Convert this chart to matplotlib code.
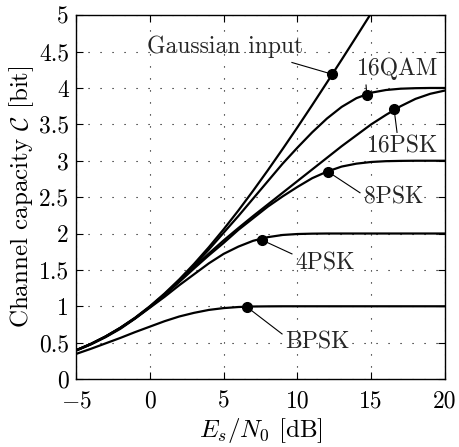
import numpy as np
import matplotlib
matplotlib.use('Agg')
import matplotlib.pyplot as plt

# Es/N0 grid [dB]
snr_db = [-5, -4, -3, -2, -1, 0, 1, 2, 3, 4, 5, 6, 7, 8, 9, 10,
          11, 12, 13, 14, 15, 16, 17, 18, 19, 20]

# capacities [bit]
c_gauss = [0.397, 0.483, 0.586, 0.706, 0.843, 1.0, 1.176, 1.370, 1.583, 1.812,
           2.057, 2.316, 2.588, 2.870, 3.161, 3.459, 3.764, 4.075, 4.389, 4.707,
           5.028]
c_16qam = [0.395, 0.482, 0.584, 0.702, 0.838, 0.993, 1.165, 1.355, 1.56, 1.78,
           2.01, 2.24, 2.48, 2.72, 2.96, 3.18, 3.39, 3.58, 3.74, 3.86,
           3.935, 3.972, 3.99, 3.997, 4.0, 4.0]
c_16psk = [0.394, 0.480, 0.582, 0.700, 0.835, 0.990, 1.16, 1.345, 1.54, 1.725,
           1.905, 2.075, 2.24, 2.40, 2.56, 2.72, 2.88, 3.04, 3.20, 3.35,
           3.50, 3.63, 3.75, 3.85, 3.92, 3.965]
c_8psk = [0.394, 0.480, 0.582, 0.700, 0.835, 0.988, 1.155, 1.335, 1.52, 1.70,
          1.87, 2.05, 2.21, 2.37, 2.51, 2.64, 2.76, 2.85, 2.92, 2.96,
          2.983, 2.994, 2.998, 3.0, 3.0, 3.0]
c_4psk = [0.390, 0.475, 0.575, 0.690, 0.830, 0.980, 1.13, 1.29, 1.44, 1.59,
          1.72, 1.82, 1.90, 1.95, 1.98, 1.993, 1.998, 2.0, 2.0, 2.0,
          2.0, 2.0, 2.0, 2.0, 2.0, 2.0]
c_bpsk = [0.345, 0.415, 0.49, 0.565, 0.645, 0.72, 0.795, 0.86, 0.91, 0.95,
          0.975, 0.99, 0.997, 0.999, 1.0, 1.0, 1.0, 1.0, 1.0, 1.0,
          1.0, 1.0, 1.0, 1.0, 1.0, 1.0]

# labels with marker point on the curve and text anchor
labels = ['Gaussian input', '16QAM', '16PSK', '8PSK', '4PSK', 'BPSK']
mark_x = [12.34, 14.7, 16.55, 12.07, 7.6, 6.58]
mark_y = [4.19, 3.91, 3.71, 2.85, 1.91, 0.99]
text_x = [5.1, 16.8, 17.15, 16.5, 11.85, 11.35]
text_y = [4.56, 4.26, 3.2, 2.49, 1.59, 0.51]
line_x = [9.63, 14.65, 16.75, 14.24, 9.63, 8.96]
line_y = [4.35, 4.04, 3.39, 2.56, 1.72, 0.62]

plt.rcParams['font.family'] = 'cmr10'
plt.rcParams['mathtext.fontset'] = 'cm'
plt.rcParams['axes.formatter.use_mathtext'] = True

fig = plt.figure(figsize=(4.59, 4.47), dpi=100)
ax = fig.add_axes([0.1656, 0.152, 0.8039, 0.814])

x = np.array(snr_db)
ax.plot(x[:len(c_gauss)], c_gauss, color='k', lw=1.6)
for c in [c_16qam, c_16psk, c_8psk, c_4psk, c_bpsk]:
    ax.plot(x, c, color='k', lw=1.6)

for i in range(len(labels)):
    ax.plot([mark_x[i], line_x[i]], [mark_y[i], line_y[i]], color='k', lw=0.8)
    ax.plot(mark_x[i], mark_y[i], 'o', color='k', ms=7)
    ax.text(text_x[i], text_y[i], labels[i], fontsize=17, color='0.15',
            ha='center', va='center')

ax.set_xlim(-5, 20)
ax.set_ylim(0, 5)
ax.set_xticks([-5, 0, 5, 10, 15, 20])
ax.set_yticks(np.arange(0, 5.01, 0.5))
ax.set_yticklabels(['0', '0.5', '1', '1.5', '2', '2.5', '3', '3.5', '4', '4.5', '5'])
ax.set_xticklabels(['$-5$', '0', '5', '10', '15', '20'])
ax.tick_params(direction='in', top=True, right=True, labelsize=17, length=5, width=0.8)
ax.tick_params(axis='x', pad=8)
ax.tick_params(axis='y', pad=5)
ax.grid(True, color='k', lw=0.8, linestyle=(0, (1, 9.8)))
for s in ax.spines.values():
    s.set_linewidth(1.0)

ax.set_xlabel('$E_s/N_0$ [dB]', fontsize=18, labelpad=3)
ax.set_ylabel(r'Channel capacity $\mathcal{C}$ [bit]', fontsize=18, labelpad=2)

fig.savefig('out.png', dpi=100)
